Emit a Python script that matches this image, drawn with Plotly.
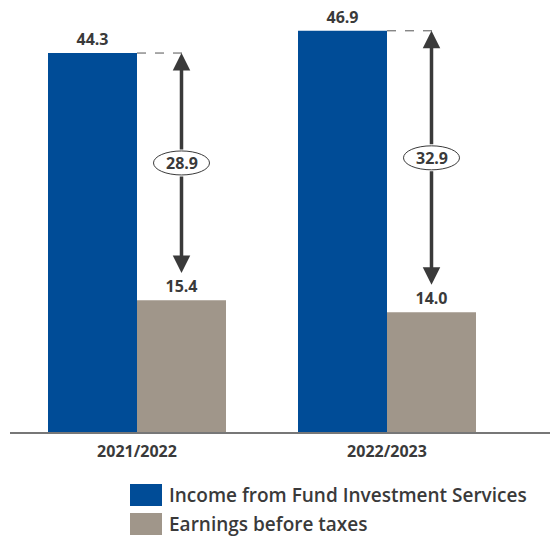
import plotly.graph_objects as go

categories = ["2021/2022", "2022/2023"]
income = [44.3, 46.9]
ebt = [15.4, 14.0]
diff_labels = ["28.9", "32.9"]
series_names = ["Income from Fund Investment Services", "Earnings before taxes"]

BLUE = "#004c97"
GRAY = "#a0968a"
DARK = "#3a3a3a"
FONT = "Open Sans"

xs = list(range(len(categories)))
off = 0.178  # half bar offset in group

fig = go.Figure()
fig.add_trace(go.Bar(x=xs, y=income, marker_color=BLUE, marker_line_width=0,
                     text=[f"{v:.1f}" for v in income], textposition="outside",
                     textfont=dict(family=FONT, size=16, color=DARK, weight="bold"),
                     cliponaxis=False, name=series_names[0], showlegend=False))
fig.add_trace(go.Bar(x=xs, y=ebt, marker_color=GRAY, marker_line_width=0,
                     text=[f"{v:.1f}" for v in ebt], textposition="outside",
                     textfont=dict(family=FONT, size=16, color=DARK, weight="bold"),
                     cliponaxis=False, name=series_names[1], showlegend=False))

shapes = []
annotations = []
for i, (a, b, d) in enumerate(zip(income, ebt, diff_labels)):
    ax = i + off
    bottom = b + 3.2
    mid = (a + bottom) / 2
    # dashed guide
    shapes.append(dict(type="line", xref="x", yref="y", x0=i, x1=i + off + 0.03,
                       y0=a, y1=a, line=dict(color="#555", width=1, dash="dash")))
    # arrows up and down from label
    for tip in (a, bottom):
        annotations.append(dict(x=ax, y=tip, ax=ax, ay=mid, xref="x", yref="y",
                                axref="x", ayref="y", showarrow=True, arrowhead=2,
                                arrowsize=1.0, arrowwidth=3.5, startstandoff=12,
                                arrowcolor=DARK, text=""))
    shapes.append(dict(type="circle", xref="x", yref="y", xsizemode="pixel",
                       ysizemode="pixel", xanchor=ax, yanchor=mid,
                       x0=-28, x1=28, y0=-12, y1=12,
                       fillcolor="white", line=dict(color=DARK, width=1)))
    annotations.append(dict(x=ax, y=mid, xref="x", yref="y", text=d, showarrow=False,
                            font=dict(family=FONT, size=16, color=DARK, weight="bold")))

# legend (manual)
W, H = 540.0, 432.0
def px(x):
    return (x - 10) / W
def py(y):
    return (432 - y) / H

legend_items = [(series_names[0], BLUE, 484, 506), (series_names[1], GRAY, 513, 535)]
for name, col, y0, y1 in legend_items:
    shapes.append(dict(type="rect", xref="paper", yref="paper", x0=px(130), x1=px(162),
                       y0=py(y1), y1=py(y0), fillcolor=col, line=dict(width=0)))
    annotations.append(dict(xref="paper", yref="paper", x=px(167), y=py((y0 + y1) / 2),
                            xanchor="left", yanchor="middle", text=name, showarrow=False,
                            font=dict(family=FONT, size=19, color=DARK, weight=600)))

fig.update_layout(
    width=550, height=538,
    margin=dict(l=10, r=0, t=0, b=106),
    plot_bgcolor="white", paper_bgcolor="white",
    barmode="group", bargap=0.288, bargroupgap=0,
    shapes=shapes, annotations=annotations,
    xaxis=dict(range=[-0.508, 1.652], tickvals=xs, ticktext=categories,
               showgrid=False, zeroline=False, showline=True, linecolor="#777",
               linewidth=1.5, ticks="", ticklabelstandoff=4,
               tickfont=dict(family=FONT, size=16, color=DARK, weight="bold")),
    yaxis=dict(range=[0, 50.5], visible=False),
)

fig.write_html("out.html")
